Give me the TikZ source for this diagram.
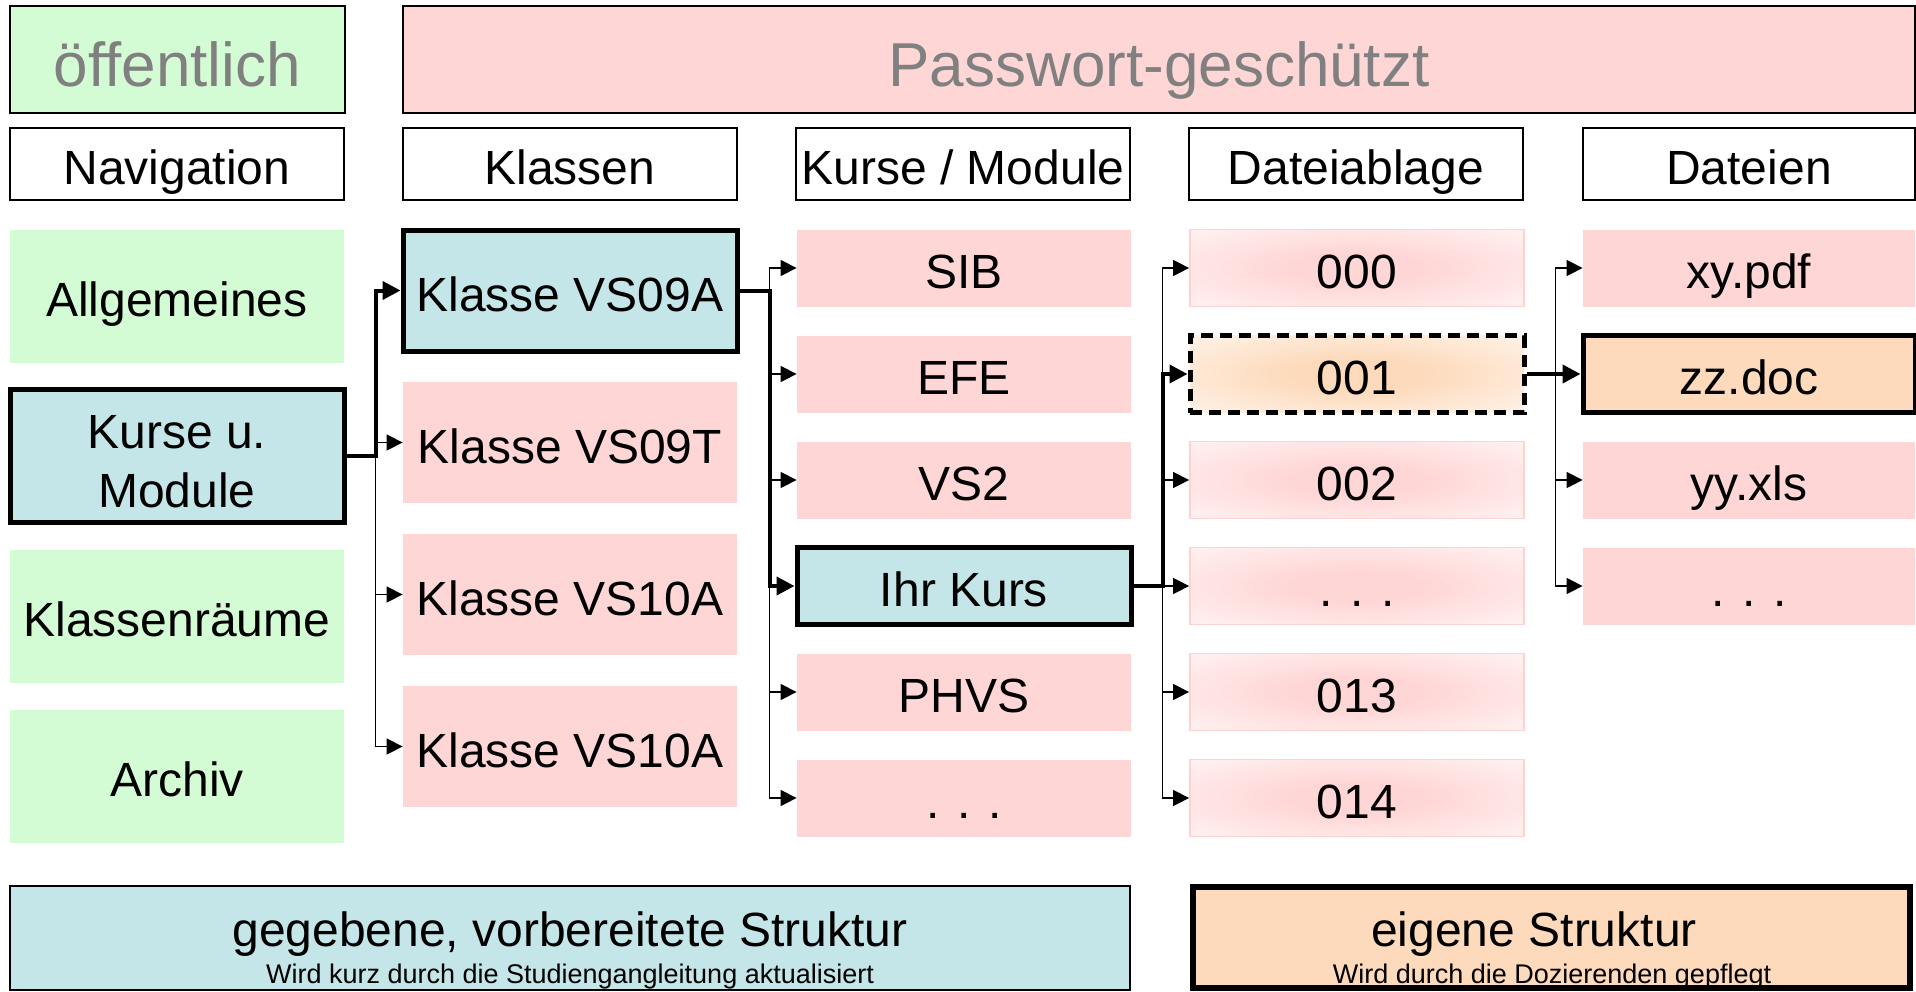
\documentclass[tikz,border=0pt]{standalone}
\usepackage{fontspec}
\setmainfont{Liberation Sans}
\usepackage{tikz}
\usetikzlibrary{arrows.meta}
\definecolor{navgreen}{RGB}{212,252,212}
\definecolor{lockpink}{RGB}{255,214,214}
\definecolor{pinkline}{RGB}{255,210,210}
\definecolor{givenblue}{RGB}{196,230,232}
\definecolor{ownorange}{RGB}{253,218,187}
\definecolor{labelgray}{RGB}{128,128,128}
\pgfdeclareradialshading{ablagepink}{\pgfpoint{0bp}{0bp}}{color(0bp)=(lockpink); color(10bp)=(lockpink); color(48bp)=(white); color(72bp)=(white)}
\pgfdeclareradialshading{ablageorange}{\pgfpoint{0bp}{0bp}}{color(0bp)=(ownorange); color(10bp)=(ownorange); color(48bp)=(white); color(72bp)=(white)}
\tikzstyle{every node}=[font=\fontsize{24}{29.5}\selectfont]
\tikzstyle{cell}=[minimum width=167pt,inner sep=0pt,text height=20.8pt,text depth=0pt,align=center]
\tikzstyle{topcell}=[cell,draw,line width=0.9pt,minimum height=53.5pt,text height=26.6pt,font=\fontsize{31}{36}\selectfont,text=labelgray]
\tikzstyle{headcell}=[cell,draw,line width=0.9pt,minimum height=36pt]
\tikzstyle{navcell}=[cell,fill=navgreen,minimum height=66.5pt]
\tikzstyle{klassecell}=[cell,fill=lockpink,minimum height=60.5pt]
\tikzstyle{kurscell}=[cell,fill=lockpink,minimum height=38.5pt]
\tikzstyle{ablagecell}=[cell,draw=pinkline,line width=0.9pt,shade,shading=ablagepink,minimum height=38.5pt]
\tikzstyle{given}=[fill=givenblue,draw=black,line width=2.5pt]
\tikzstyle{own}=[fill=ownorange,draw=black,line width=2.5pt]
\tikzstyle{strong}=[line width=2pt,>={Triangle[length=9pt,width=9pt]}]
\tikzstyle{weak}=[line width=0.7pt]
\tikzstyle{elbow}=[to path={|- (\tikztotarget)}]

\begin{document}
\begin{tikzpicture}[x=1pt,y=1pt,node distance=196.5pt,>={Triangle[length=8pt,width=8pt]}]
	\useasboundingbox (0,0) rectangle (958,-495.5);
	% Zugang
	\node(pub)[topcell,fill=navgreen,minimum width=167.5pt] at (88.75,-29.75) {öffentlich};
	\node(pw)[topcell,fill=lockpink,minimum width=756pt] at (579.5,-29.75) {Passwort-geschützt};

	% Spaltenkoepfe
	\node(hnav)[headcell] at (88.5,-82) {Navigation};
	\node(hkl)[headcell,right of=hnav] {Klassen};
	\node(hku)[headcell,right of=hkl] {Kurse / Module};
	\node(hab)[headcell,right of=hku] {Dateiablage};
	\node(hda)[headcell,right of=hab,minimum width=166pt] {Dateien};

	% Navigation
	\node(nav1)[navcell] at (88.5,-148) {Allgemeines};
	\node(nav2)[navcell,given,text height=51pt,below of=nav1,node distance=80pt] {Kurse u.\\Module};
	\node(nav3)[navcell,below of=nav2,node distance=80pt] {Klassenräume};
	\node(nav4)[navcell,below of=nav3,node distance=80pt] {Archiv};

	% Klassen
	\node(kl1)[klassecell,given] at (285,-145.25) {Klasse VS09A};
	\node(kl2)[klassecell,below of=kl1,node distance=76pt] {Klasse VS09T};
	\node(kl3)[klassecell,below of=kl2,node distance=76pt] {Klasse VS10A};
	\node(kl4)[klassecell,below of=kl3,node distance=76pt] {Klasse VS10A};

	% Kurse / Module
	\node(ku1)[kurscell] at (482,-134) {SIB};
	\node(ku2)[kurscell,below of=ku1,node distance=53pt] {EFE};
	\node(ku3)[kurscell,below of=ku2,node distance=53pt] {VS2};
	\node(ku4)[kurscell,given,below of=ku3,node distance=53pt] {Ihr Kurs};
	\node(ku5)[kurscell,below of=ku4,node distance=53pt] {PHVS};
	\node(ku6)[kurscell,below of=ku5,node distance=53pt] {. . .};

	% Dateiablage
	\node(ab1)[ablagecell] at (678.5,-134) {000};
	\node(ab2)[ablagecell,shading=ablageorange,draw=black,line width=2.5pt,dash pattern=on 6pt off 3.5pt,below of=ab1,node distance=53pt] {001};
	\node(ab3)[ablagecell,below of=ab2,node distance=53pt] {002};
	\node(ab4)[ablagecell,below of=ab3,node distance=53pt] {. . .};
	\node(ab5)[ablagecell,below of=ab4,node distance=53pt] {013};
	\node(ab6)[ablagecell,below of=ab5,node distance=53pt] {014};

	% Dateien
	\node(da1)[kurscell,minimum width=166pt] at (874.5,-134) {xy.pdf};
	\node(da2)[kurscell,own,minimum width=166pt,below of=da1,node distance=53pt] {zz.doc};
	\node(da3)[kurscell,minimum width=166pt,below of=da2,node distance=53pt] {yy.xls};
	\node(da4)[kurscell,minimum width=166pt,below of=da3,node distance=53pt] {. . .};

	% Verzweigungen
	\coordinate (j1) at ([xshift=14.5pt]nav2.east);
	\coordinate (j2) at ([xshift=15pt]kl1.east);
	\coordinate (j3) at ([xshift=14.5pt]ku4.east);
	\coordinate (j4) at ([xshift=14.5pt]ab2.east);

	\path[weak,->]  (j1) edge[elbow] (kl2) edge[elbow] (kl3) edge[elbow] (kl4)
	                (j2) edge[elbow] (ku1) edge[elbow] (ku2) edge[elbow] (ku3)
	                     edge[elbow] (ku5) edge[elbow] (ku6)
	                (j3) edge[elbow] (ab1) edge[elbow] (ab3) edge[elbow] (ab4)
	                     edge[elbow] (ab5) edge[elbow] (ab6)
	                (j4) edge[elbow] (da1) edge[elbow] (da3) edge[elbow] (da4);
	\draw[strong,->] (nav2.east) -- (j1) |- (kl1);
	\draw[strong,->] (kl1.east) -- (j2) |- (ku4);
	\draw[strong,->] (ku4.east) -- (j3) |- (ab2);
	\draw[strong,->] (ab2.east) -- (da2);

	% Legende
	\node(legGiven)[draw,line width=0.9pt,fill=givenblue,minimum width=560pt,minimum height=52pt,inner sep=0pt] at (285,-469) {};
	\node(legGivenT)[anchor=base] at (285,-473.2) {gegebene, vorbereitete Struktur};
	\node(legGivenS)[anchor=base,font=\fontsize{13.5}{16}\selectfont] at (285,-491.6) {Wird kurz durch die Studiengangleitung aktualisiert};
	\node(legOwn)[draw,line width=3pt,fill=ownorange,minimum width=358.5pt,minimum height=50.5pt,inner sep=0pt] at (775.75,-468.75) {};
	\node(legOwnT)[anchor=base] at (767,-473.2) {eigene Struktur};
	\node(legOwnS)[anchor=base,font=\fontsize{13.5}{16}\selectfont] at (776,-491.6) {Wird durch die Dozierenden gepflegt};
\end{tikzpicture}
\end{document}
